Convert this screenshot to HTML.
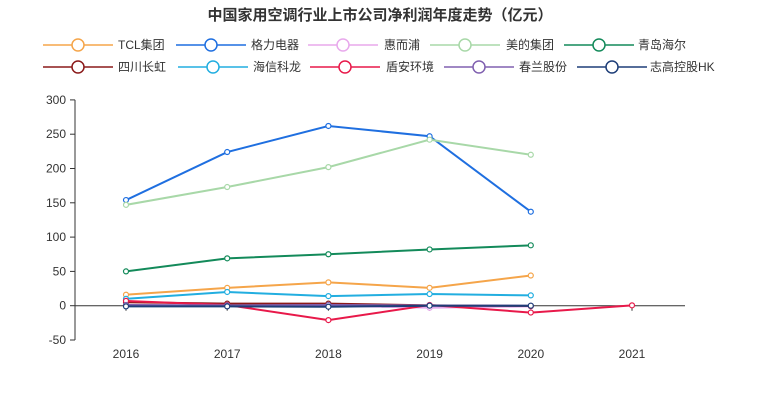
<!DOCTYPE html>
<html><head><meta charset="utf-8"><style>
body{margin:0;background:#fff;font-family:"Liberation Sans","Noto Sans CJK SC",sans-serif}
svg text{font-family:"Liberation Sans","Noto Sans CJK SC",sans-serif}
</style></head><body>
<svg id="c" width="760" height="400">
<text x="380" y="20" text-anchor="middle" font-size="15" font-weight="bold" fill="#333">中国家用空调行业上市公司净利润年度走势（亿元）</text>
</svg>
<script>
const years=['2016','2017','2018','2019','2020','2021'];
const yTicks=[300,250,200,150,100,50,0,-50];
const names=['TCL集团','格力电器','惠而浦','美的集团','青岛海尔','四川长虹','海信科龙','盾安环境','春兰股份','志高控股HK'];
const colors=['#f5a54a','#1f6fe0','#e8a9ec','#a8d8a8','#138a5a','#8b1a1a','#22aee0','#e8194a','#8060b0','#1e3e78'];
const sTCL=[16,26,34,26,44];
const sGree=[154,224,262,247,137];
const sWhirl=[0.5,0.3,0.2,-3,-1];
const sMidea=[147,173,202,242,220];
const sHaier=[50,69,75,82,88];
const sChang=[5,3,3,0.5,-0.5];
const sHisense=[10,20,14,17,15];
const sDunan=[7,1,-21,1,-10,0.5];
const sChun=[1,0.5,1,0.3,0];
const sChigo=[-1,-1,-1.5,0,0];
const series=[sTCL,sGree,sWhirl,sMidea,sHaier,sChang,sHisense,sDunan,sChun,sChigo];
const svg=document.getElementById('c');const NS='http://www.w3.org/2000/svg';
const X=i=>126+i*101.2;const Y=v=>305.7-v*0.686;
function mk(t,a,p){const e=document.createElementNS(NS,t);for(const k in a)e.setAttribute(k,a[k]);(p||svg).appendChild(e);return e;}
let e;
e=mk('line',{x1:75,y1:Y(300),x2:75,y2:Y(-50),stroke:'#333'});


yTicks.forEach(t=>{mk('line',{x1:70,x2:75,y1:Y(t),y2:Y(t),stroke:'#333'});
e=mk('text',{x:66,y:Y(t)+4,'text-anchor':'end','font-size':12,fill:'#333'});e.textContent=t;

});
e=mk('line',{x1:75,y1:Y(0),x2:685,y2:Y(0),stroke:'#333'});


years.forEach((y,i)=>{mk('line',{x1:X(i),x2:X(i),y1:Y(0),y2:Y(0)+5,stroke:'#333'});
e=mk('text',{x:X(i),y:358,'text-anchor':'middle','font-size':12,fill:'#333'});e.textContent=y;

});
const legLine=[[43,176,308,430,564],[43,178,310,444,577]];
const legText=[[118,251,384,506,638],[118,253,386,519,650]];
series.forEach((s,k)=>{
const g=mk('g',{});


mk('polyline',{points:s.map((v,i)=>X(i)+','+Y(v)).join(' '),fill:'none',stroke:colors[k],'stroke-width':2},g);
s.forEach((v,i)=>mk('circle',{cx:X(i),cy:Y(v),r:2.5,fill:'#fff',stroke:colors[k],'stroke-width':1.2},g));
const row=k<5?0:1,col=k%5;const lx=legLine[row][col],ly=row?67:45;
const lg=mk('g',{});


mk('line',{x1:lx,x2:lx+70,y1:ly,y2:ly,stroke:colors[k],'stroke-width':1.5},lg);
mk('circle',{cx:lx+35,cy:ly,r:6,fill:'#fff',stroke:colors[k],'stroke-width':1.5},lg);
const t=mk('text',{x:legText[row][col],y:ly+4,'font-size':12,fill:'#333'},lg);t.textContent=names[k];
});
</script>
</body></html>
